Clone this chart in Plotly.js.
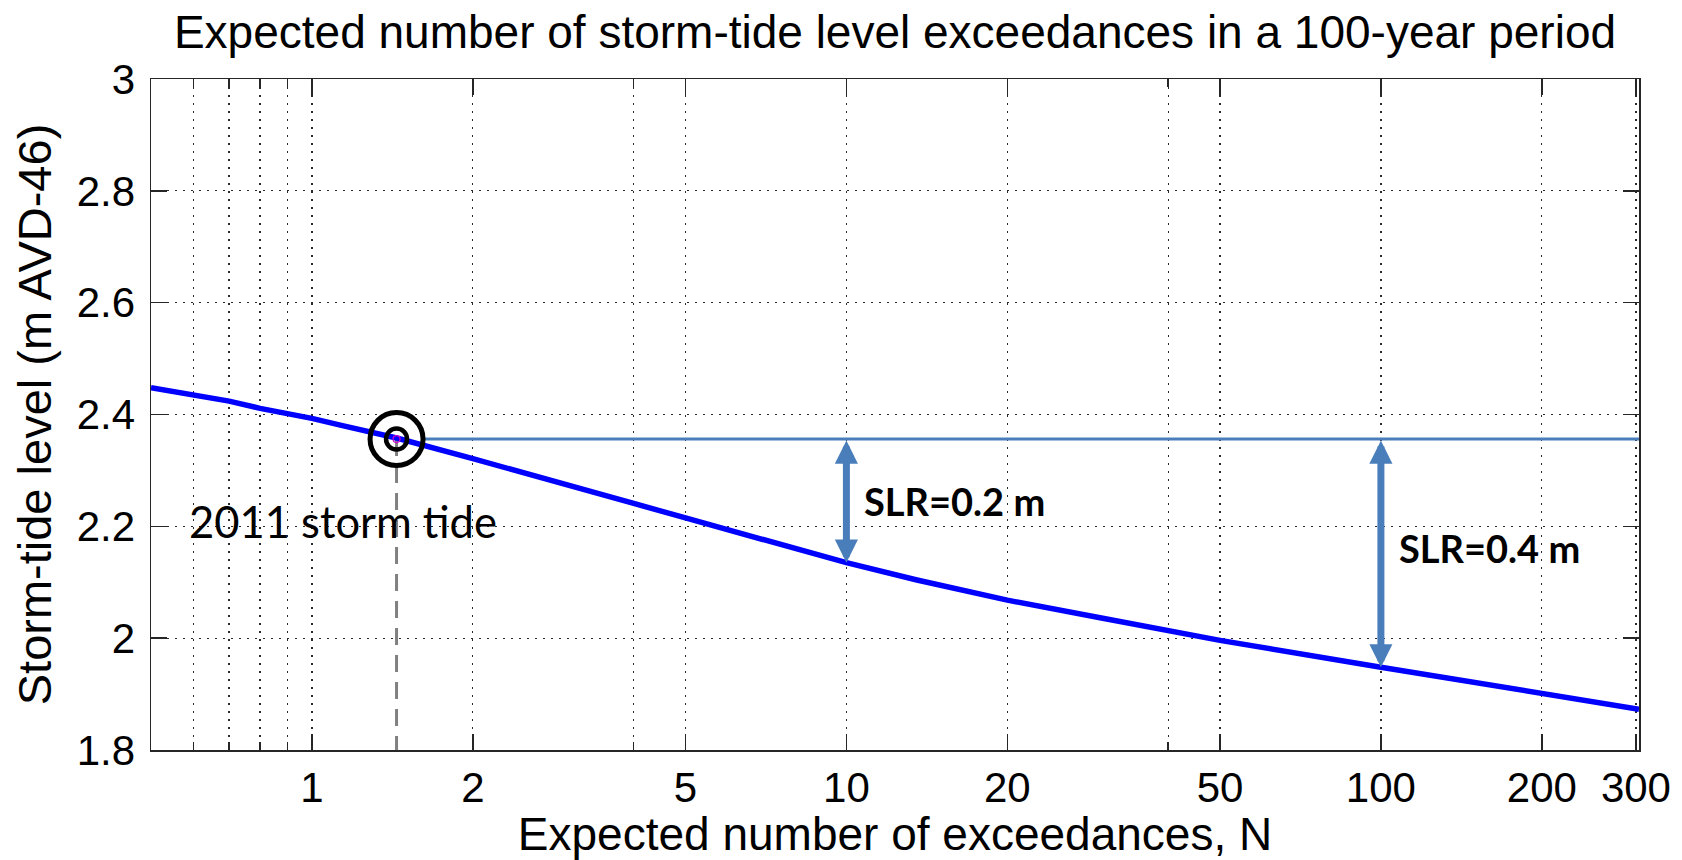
<!DOCTYPE html>
<html><head><meta charset="utf-8">
<script src="https://cdn.plot.ly/plotly-3.0.1.min.js"></script>
<style>html,body{margin:0;padding:0;background:#fff}#chart{width:1682px;height:860px}</style>
</head><body><div id="chart"></div>
<script>
// Curve: expected number of exceedances N vs storm-tide level
const exceedN    = [0.5, 0.6, 0.7, 0.8, 0.9, 1.0, 1.13, 1.44, 2.0, 2.91, 3.46, 4, 5, 6.28, 10, 13.55, 20, 30, 40, 50, 100, 200, 304];
const stormLevel = [2.448, 2.436, 2.424, 2.411, 2.402, 2.393, 2.381, 2.358, 2.321, 2.279, 2.259, 2.241, 2.215, 2.189, 2.135, 2.104, 2.068, 2.036, 2.013, 1.996, 1.948, 1.902, 1.873];
// 2011 event
const eventN = [1.44];
const eventLevel = [2.356];
const eventLabel = ['2011 storm tide'];
// Sea-level-rise arrows
const slrN = [10, 100];
const slrRise = [0.2, 0.4];
const slrLabels = ['SLR=0.2 m', 'SLR=0.4 m'];
// Axes
const xMajorTicks = [1, 2, 5, 10, 20, 50, 100, 200, 300];
const xMinorTicks = [0.6, 0.7, 0.8, 0.9, 4, 40];
const yTicks = [1.8, 2, 2.2, 2.4, 2.6, 2.8, 3];
const xRange = [0.5, 304];
const yRange = [1.8, 3];
const titleText = 'Expected number of storm-tide level exceedances in a 100-year period';
const xTitle = 'Expected number of exceedances, N';
const yTitle = 'Storm-tide level (m AVD-46)';

const ARROW = '#4a7ebb';
const AXC = '#262626';
const GRIDC = '#2a2a2a';
const lg = Math.log10;

const levelAt = n => stormLevel[exceedN.indexOf(n)];

const traces = [
  { // reference level line
    x: [eventN[0], xRange[1]], y: [eventLevel[0], eventLevel[0]], mode: 'lines',
    line: {color: ARROW, width: 3}, hoverinfo: 'skip'
  },
  { // white disc under rings
    x: eventN, y: eventLevel, mode: 'markers',
    marker: {symbol: 'circle', size: 56, color: '#ffffff', opacity: 1, line: {width: 0}}, hoverinfo: 'skip'
  },
  { // dashed drop line
    x: [eventN[0], eventN[0]], y: [eventLevel[0], yRange[0]], mode: 'lines',
    line: {color: '#808080', width: 3, dash: '17px,10px'}, hoverinfo: 'skip'
  },
  { // main curve
    x: exceedN, y: stormLevel, mode: 'lines',
    line: {color: '#0000ff', width: 5.5}
  },
  { // outer ring
    x: eventN, y: eventLevel, mode: 'markers',
    marker: {symbol: 'circle-open', size: 53, color: '#000000', opacity: 1, line: {width: 5, color: '#000000'}},
    hoverinfo: 'skip'
  },
  { // inner ring
    x: eventN, y: eventLevel, mode: 'markers',
    marker: {symbol: 'circle-open', size: 21, color: '#000000', opacity: 1, line: {width: 4.5, color: '#000000'}},
    hoverinfo: 'skip'
  },
  { // small centre mark
    x: eventN, y: eventLevel, mode: 'markers',
    marker: {symbol: 'circle-open', size: 7, color: '#d000d0', opacity: 1, line: {width: 1.2, color: '#d000d0'}},
    hoverinfo: 'skip'
  }
];

const labelAdjust = [-0.011, 0.005];
const annotations = [];
slrN.forEach((n, i) => {
  annotations.push({
    xref: 'x', yref: 'y', axref: 'x', ayref: 'y',
    x: lg(n), y: levelAt(n), ax: lg(n), ay: eventLevel[0],
    text: '', showarrow: true, arrowside: 'end+start',
    arrowhead: 2, startarrowhead: 2, arrowsize: 0.66, startarrowsize: 0.66,
    arrowwidth: 7, arrowcolor: ARROW, standoff: 0, startstandoff: 0
  });
  annotations.push({
    xref: 'x', yref: 'y', x: lg(n), y: eventLevel[0] - slrRise[i] / 2 + labelAdjust[i],
    xanchor: 'left', yanchor: 'middle', xshift: 16, showarrow: false,
    text: '<b>' + slrLabels[i] + '</b>',
    font: {family: 'Lato, "Noto Sans", sans-serif', size: 38, color: '#000'}
  });
});
annotations.push({
  xref: 'x', yref: 'y', x: lg(eventN[0]), y: 2.21,
  xanchor: 'center', yanchor: 'middle', xshift: -54, showarrow: false,
  text: eventLabel[0],
  font: {family: 'Lato, "Noto Sans", sans-serif', size: 43.5, color: '#000'}
});

const gridStyle = {showgrid: true, gridcolor: GRIDC, gridwidth: 1.3, griddash: '1.5px,6.5px'};

const layout = {
  width: 1682, height: 860,
  margin: {l: 151, r: 43, t: 79, b: 110, pad: 0},
  paper_bgcolor: '#ffffff', plot_bgcolor: '#ffffff',
  showlegend: false,
  font: {family: '"Liberation Sans", Arial, sans-serif', color: '#000'},
  title: {
    text: titleText, font: {size: 46, color: '#000'},
    x: 0.5, xref: 'paper', xanchor: 'center',
    y: 1 - 32 / 860, yref: 'container', yanchor: 'middle'
  },
  xaxis: Object.assign({
    type: 'log', range: [lg(xRange[0]), lg(xRange[1])], automargin: false,
    tickmode: 'array', tickvals: xMajorTicks, ticktext: xMajorTicks.map(String),
    ticks: 'inside', ticklen: 16, tickwidth: 1.5, tickcolor: AXC,
    showline: true, linecolor: AXC, linewidth: 1.5, mirror: 'ticks',
    tickfont: {size: 42, color: '#000'}, zeroline: false,
    minor: {tickmode: 'array', tickvals: xMinorTicks, ticks: 'inside', ticklen: 8, tickwidth: 1.5, tickcolor: AXC,
            showgrid: true, gridcolor: GRIDC, gridwidth: 1.3, griddash: '1.5px,6.5px'},
    title: {text: xTitle, font: {size: 46, color: '#000'}, standoff: 7}
  }, gridStyle),
  yaxis: Object.assign({
    range: yRange, automargin: false,
    tickmode: 'array', tickvals: yTicks, ticktext: yTicks.map(String),
    ticks: 'inside', ticklen: 16, tickwidth: 1.5, tickcolor: AXC,
    showline: true, linecolor: AXC, linewidth: 1.5, mirror: 'ticks',
    tickfont: {size: 42, color: '#000'}, zeroline: false, ticklabelstandoff: 6,
    title: {text: yTitle, font: {size: 47, color: '#000'}, standoff: 10}
  }, gridStyle),
  annotations: annotations
};

Plotly.newPlot('chart', traces, layout, {staticPlot: true, displayModeBar: false});
</script>
</body></html>
